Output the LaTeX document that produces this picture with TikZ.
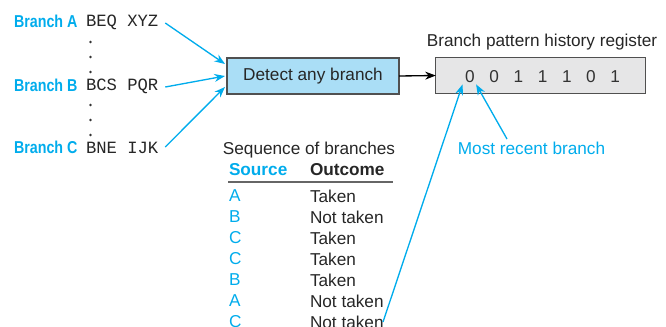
\documentclass[tikz,border=0pt]{standalone}
\usepackage{fontspec}
\setmainfont{Liberation Sans}
\setmonofont{Liberation Mono}
\usetikzlibrary{arrows.meta}
\definecolor{cy}{RGB}{0,172,236}
\definecolor{boxblue}{RGB}{170,222,246}
\definecolor{reggray}{RGB}{230,230,231}
\definecolor{edge}{RGB}{80,80,80}
\newcommand{\condbold}[1]{\scalebox{0.83}[1]{\bfseries #1}}
\begin{document}
\begin{tikzpicture}[x=0.75pt,y=-0.75pt,
  every node/.style={inner sep=0pt,outer sep=0pt,font=\fontsize{12.9}{15}\selectfont},
  brlabel/.style={anchor=west,text=cy},
  code/.style={anchor=west,font=\fontsize{12.9}{15}\selectfont\ttfamily,text=black!85},
  vdot/.style={font=\fontsize{12.9}{15}\selectfont\ttfamily},
  cyarrow/.style={draw=cy,line width=1pt,-{Stealth[length=8pt,width=6pt]}},
  blackarrow/.style={draw=black,line width=1pt,-{Stealth[length=8pt,width=6pt]}},
  unitbox/.style={draw=edge,line width=0.9pt,minimum width=172pt*0.75/0.75,anchor=center},
  cell/.style={anchor=west,text=black!85},
  srccell/.style={anchor=west,text=cy},
  digit/.style={text=black!80}]
\useasboundingbox (0,0) rectangle (666,326);

% branch sources
\node[brlabel] (la) at (14,21) {\condbold{Branch A}};
\node[brlabel] (lb) at (14,85) {\condbold{Branch B}};
\node[brlabel] (lc) at (14,147) {\condbold{Branch C}};
\node[code] (ca) at (86,22) {BEQ XYZ};
\node[code] (cb) at (86,86) {BCS PQR};
\node[code] (cc) at (86,148) {BNE IJK};
\foreach \y in {42,57,72,105,120,135}
  \fill[black!80] (90.5,\y) circle (1pt);

% detector
\node[draw=edge,line width=0.9pt,fill=boxblue,minimum width=129pt,minimum height=27pt,text=black!85] (det) at (313,76) {Detect any branch};
\coordinate (inA) at (225,64);
\coordinate (inB) at (225,76);
\coordinate (inC) at (225,87);
\draw[cyarrow] (ca.east) ++(7,1) -- (inA);
\draw[cyarrow] (cb.east) ++(7,1) -- (inB);
\draw[cyarrow] (cc.east) ++(7,-1) -- (inC);

% history register
\node[draw=edge,line width=0.9pt,fill=reggray,minimum width=157pt,minimum height=26.5pt] (reg) at (540.5,75.5) {};
\node[anchor=center,text=black!85] (regtitle) at (542,42) {Branch pattern history register};
\draw[blackarrow] (det.east) -- (reg.west);
\foreach \b [count=\i from 0] in {0,0,1,1,1,0,1}
  \node[digit] (d\i) at (470+24.2*\i,77) {\b};

\node[text=cy] (recent) at (531.5,148) {Most recent branch};
\coordinate (recentfoot) at (507,139);
\draw[cyarrow] (recentfoot) -- ([xshift=1pt,yshift=-1pt]d0.south east);

% sequence table
\node[text=black!85] (seqtitle) at (309,150) {Sequence of branches};
\node[srccell] (hsrc) at (229,170) {\bfseries Source};
\node[cell] (hout) at (310,170) {\bfseries Outcome};
\draw[black!60,line width=1.4pt] (228,182) -- (393,182);
\foreach \s/\o [count=\i] in {A/Taken,B/Not taken,C/Taken,C/Taken,B/Taken,A/Not taken,C/Not taken}{
  \node[srccell] (s\i) at (229,175+21*\i) {\s};
  \node[cell] (o\i) at (310,175+21*\i) {\o};
}
\coordinate (lastfoot) at (383,322);
\draw[cyarrow] (lastfoot) -- ([xshift=-2pt,yshift=-1pt]d0.south west);
\end{tikzpicture}
\end{document}
